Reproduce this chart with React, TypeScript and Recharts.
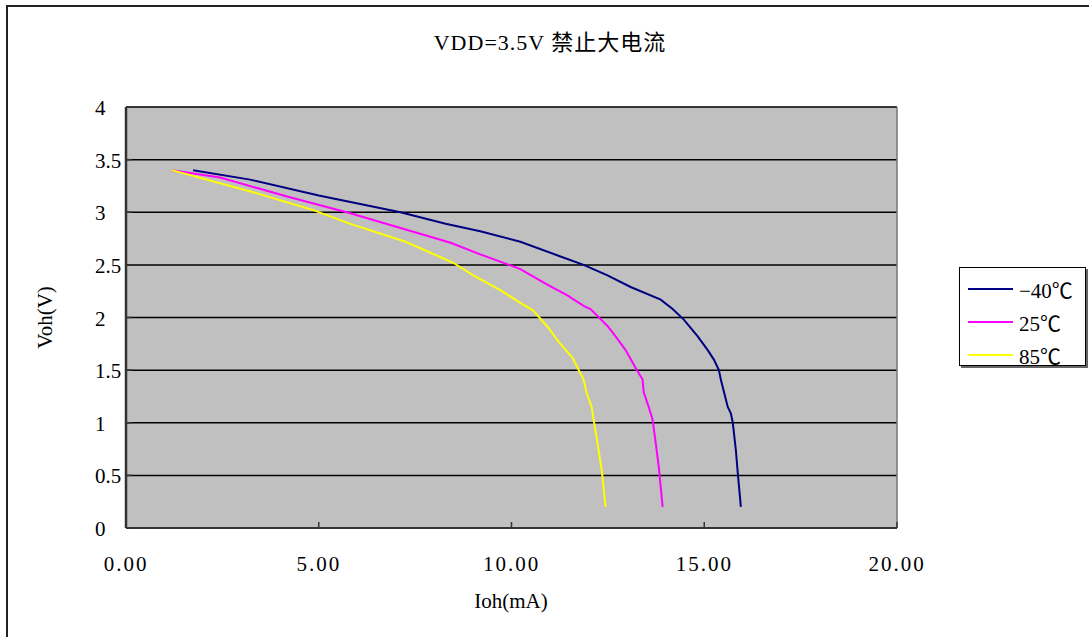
import React from 'react';
import { LineChart, Line, XAxis, YAxis, CartesianGrid, ReferenceLine } from 'recharts';

const seriesNames = ['−40℃', '25℃', '85℃'];
const seriesColors = ['#000080', '#FF00FF', '#FFFF00'];

const neg40I = [1.74, 3.22, 5.0, 7.12, 8.29, 9.19, 10.23, 11.27, 11.87, 12.49, 13.09, 13.87, 14.18, 14.47, 14.83, 15.09, 15.25, 15.38, 15.43, 15.61, 15.69, 15.74, 15.82, 15.87, 15.95];
const neg40V = [3.4, 3.31, 3.16, 3.0, 2.89, 2.82, 2.72, 2.58, 2.5, 2.4, 2.29, 2.17, 2.08, 1.98, 1.82, 1.69, 1.6, 1.5, 1.41, 1.15, 1.09, 1.0, 0.74, 0.52, 0.2];

const t25I = [1.19, 2.44, 4.18, 5.82, 7.12, 8.42, 9.19, 10.23, 10.94, 11.45, 11.87, 12.05, 12.49, 12.7, 12.96, 13.22, 13.4, 13.43, 13.56, 13.66, 13.74, 13.82, 13.92];
const t25V = [3.4, 3.33, 3.15, 2.99, 2.85, 2.71, 2.6, 2.46, 2.31, 2.21, 2.11, 2.08, 1.92, 1.82, 1.69, 1.52, 1.41, 1.29, 1.15, 1.03, 0.81, 0.58, 0.2];

const t85I = [1.19, 3.3, 4.86, 5.82, 7.25, 8.49, 9.01, 9.71, 10.31, 10.55, 10.94, 11.22, 11.58, 11.87, 11.95, 12.08, 12.13, 12.23, 12.34, 12.44];
const t85V = [3.4, 3.19, 3.02, 2.89, 2.72, 2.52, 2.4, 2.26, 2.12, 2.07, 1.91, 1.77, 1.62, 1.41, 1.28, 1.15, 1.03, 0.81, 0.55, 0.2];

const xTicks = [0, 5, 10, 15, 20];
const yTicks = [0, 0.5, 1, 1.5, 2, 2.5, 3, 3.5, 4];

const titleText = 'VDD=3.5V 禁止大电流';
const xLabel = 'Ioh(mA)';
const yLabel = 'Voh(V)';

const zip = (xs: number[], ys: number[]) => xs.map((x, i) => ({ x, y: ys[i] }));
const seriesData = [zip(neg40I, neg40V), zip(t25I, t25V), zip(t85I, t85V)];

const FONT = "'Liberation Serif', 'Noto Sans CJK SC', serif";

const XTick = (props: any) => {
  const { x, payload } = props;
  return (
    <text x={x} y={571} textAnchor="middle" fontFamily={FONT} fontSize={21} fill="#000" letterSpacing={2}>
      {Number(payload.value).toFixed(2)}
    </text>
  );
};

const YTick = (props: any) => {
  const { y, payload } = props;
  return (
    <text x={95} y={y + 8} textAnchor="start" fontFamily={FONT} fontSize={21} fill="#000">
      {String(payload.value)}
    </text>
  );
};

export default function App() {
  return (
    <div style={{ position: 'absolute', left: 0, top: 0, width: 1089, height: 637, overflow: 'hidden', background: '#fff' }}>
      <div
        style={{
          position: 'absolute',
          left: 6,
          top: 5,
          width: 1200,
          height: 700,
          border: '2px solid #222',
          boxSizing: 'border-box',
        }}
      />
      <div
        style={{
          position: 'absolute',
          left: 0,
          top: 24,
          width: 1100,
          textAlign: 'center',
          fontFamily: FONT,
          fontSize: 22,
          color: '#000',
          letterSpacing: 1,
        }}
      >
        {titleText}
      </div>
      <div
        style={{
          position: 'absolute',
          left: 411,
          top: 589,
          width: 200,
          textAlign: 'center',
          fontFamily: FONT,
          fontSize: 21,
          color: '#000',
        }}
      >
        {xLabel}
      </div>
      <div
        style={{
          position: 'absolute',
          left: -55,
          top: 305,
          width: 200,
          textAlign: 'center',
          fontFamily: FONT,
          fontSize: 21,
          color: '#000',
          transform: 'rotate(-90deg)',
        }}
      >
        {yLabel}
      </div>
      <LineChart
        width={1089}
        height={637}
        margin={{ top: 107, right: 192, left: 96, bottom: 69 }}
        style={{ position: 'absolute', left: 0, top: 0 }}
      >
        <CartesianGrid vertical={false} stroke="#000" strokeWidth={1.5} fill="#C0C0C0" fillOpacity={1} />
        <XAxis
          type="number"
          dataKey="x"
          domain={[0, 20]}
          ticks={xTicks}
          interval={0}
          height={40}
          axisLine={{ stroke: '#333', strokeWidth: 2 }}
          tickLine={{ stroke: '#333', strokeWidth: 1.5 }}
          tickSize={-6}
          tick={<XTick />}
          allowDataOverflow
        />
        <YAxis
          type="number"
          dataKey="y"
          domain={[0, 4]}
          ticks={yTicks}
          interval={0}
          width={30}
          axisLine={{ stroke: '#333', strokeWidth: 2.5 }}
          tickLine={{ stroke: '#333', strokeWidth: 1.5 }}
          tickSize={-6}
          tick={<YTick />}
          allowDataOverflow
        />
        <ReferenceLine x={20} stroke="#777" strokeWidth={1.5} />
        {seriesData.map((d, i) => (
          <Line
            key={seriesNames[i]}
            data={d}
            dataKey="y"
            name={seriesNames[i]}
            stroke={seriesColors[i]}
            strokeWidth={2}
            dot={false}
            activeDot={false}
            type="linear"
            isAnimationActive={false}
          />
        ))}
      </LineChart>
      <div
        style={{
          position: 'absolute',
          left: 959,
          top: 267,
          width: 127,
          height: 99,
          border: '1px solid #000',
          boxShadow: '2px 2px 0 #666',
          background: '#fff',
          boxSizing: 'border-box',
          paddingTop: 4,
          fontFamily: FONT,
        }}
      >
        {seriesNames.map((n, i) => (
          <div key={n} style={{ display: 'flex', alignItems: 'center', height: 33 }}>
            <div style={{ width: 45, height: 2, background: seriesColors[i], marginLeft: 8, marginRight: 6 }} />
            <span style={{ fontSize: 21, color: '#000' }}>{n}</span>
          </div>
        ))}
      </div>
    </div>
  );
}
